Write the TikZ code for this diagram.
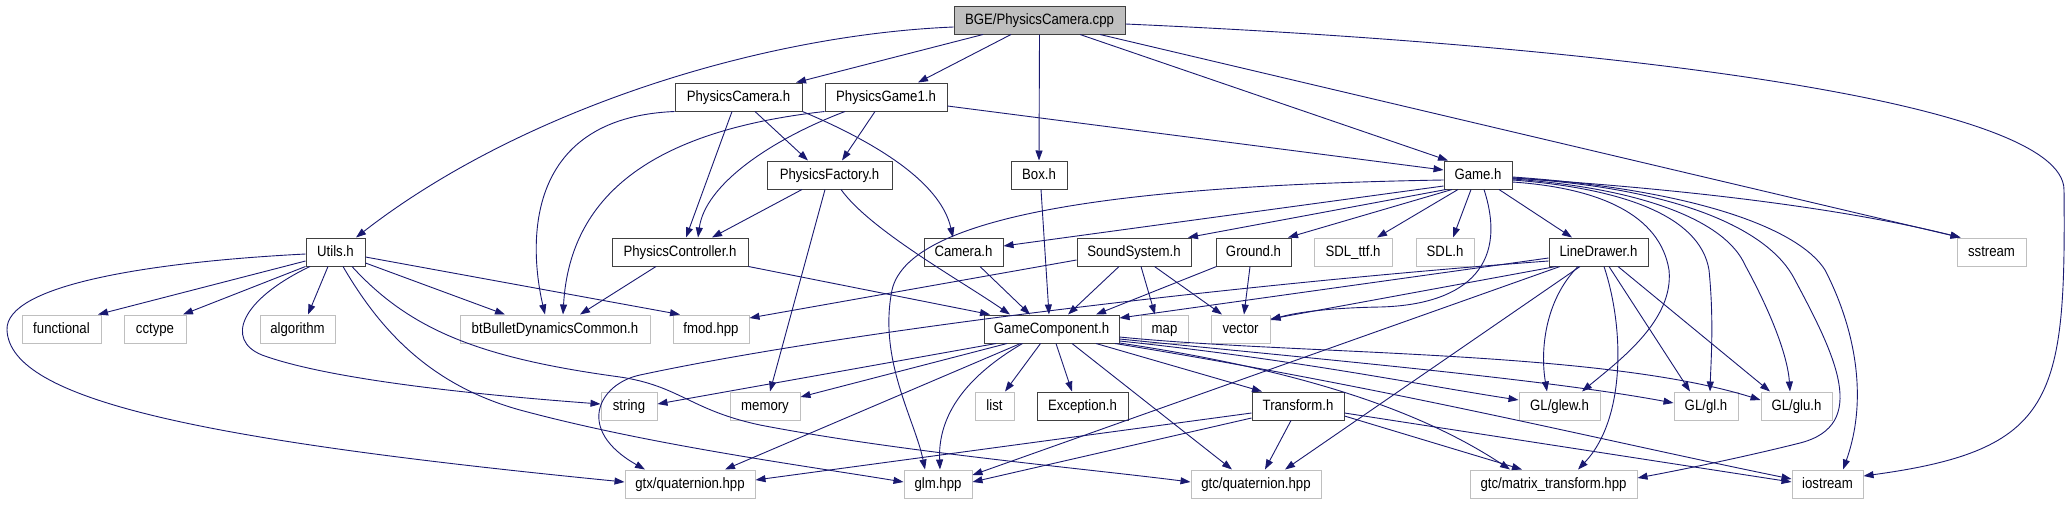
\documentclass[tikz,border=0pt]{standalone}
\usepackage{fontspec}
\setmainfont{Liberation Sans}[FakeStretch=0.88]
\usetikzlibrary{arrows.meta}
\definecolor{edgec}{HTML}{191970}
\definecolor{grayb}{HTML}{BFBFBF}
\definecolor{darkb}{HTML}{404040}
\tikzset{
 nb/.style={draw=darkb,line width=1pt,fill=white,inner sep=0pt,minimum height=28pt,
   font=\fontsize{15}{17}\selectfont,text height=10.5pt,text depth=2.5pt},
 sb/.style={nb,draw=grayb},
 rb/.style={nb,fill=grayb},
 dep/.style={draw=edgec,line width=0.9pt,-{Triangle[length=10pt,width=7pt]}}
}
\newcommand\gnode[6]{\node[#1,minimum width=#5pt-#4pt] (#2) at ({(#4+#5)/2},#6) {#3};}
\begin{document}
\begin{tikzpicture}[x=1pt,y=-1pt]
\useasboundingbox (0,0) rectangle (2069,504);
% row 0
\gnode{rb}{bge}{BGE/PhysicsCamera.cpp}{954}{1125}{20}
% row 1
\gnode{nb}{pch}{PhysicsCamera.h}{675}{802}{97}
\gnode{nb}{pg1}{PhysicsGame1.h}{825}{947}{97}
% row 2
\gnode{nb}{pf}{PhysicsFactory.h}{767}{892}{175}
\gnode{nb}{box}{Box.h}{1011}{1067}{175}
\gnode{nb}{game}{Game.h}{1444}{1512}{175}
% row 3
\gnode{nb}{utils}{Utils.h}{306}{365}{252}
\gnode{nb}{pc}{PhysicsController.h}{612}{748}{252}
\gnode{nb}{cam}{Camera.h}{924}{1003}{252}
\gnode{nb}{ss}{SoundSystem.h}{1077}{1191}{252}
\gnode{nb}{ground}{Ground.h}{1216}{1291}{252}
\gnode{sb}{sdlttf}{SDL\_ttf.h}{1314}{1392}{252}
\gnode{sb}{sdl}{SDL.h}{1416}{1474}{252}
\gnode{nb}{ld}{LineDrawer.h}{1549}{1648}{252}
\gnode{sb}{sstream}{sstream}{1957}{2026}{252}
% row 4
\gnode{sb}{func}{functional}{22}{101}{329}
\gnode{sb}{cctype}{cctype}{124}{186}{329}
\gnode{sb}{algo}{algorithm}{260}{335}{329}
\gnode{sb}{bt}{btBulletDynamicsCommon.h}{460}{650}{329}
\gnode{sb}{fmod}{fmod.hpp}{673}{749}{329}
\gnode{nb}{gc}{GameComponent.h}{984}{1119}{329}
\gnode{sb}{map}{map}{1141}{1188}{329}
\gnode{sb}{vector}{vector}{1211}{1270}{329}
% row 5
\gnode{sb}{string}{string}{601}{657}{406}
\gnode{sb}{memory}{memory}{730}{800}{406}
\gnode{sb}{list}{list}{975}{1014}{406}
\gnode{nb}{exc}{Exception.h}{1037}{1128}{406}
\gnode{nb}{trans}{Transform.h}{1252}{1344}{406}
\gnode{sb}{glew}{GL/glew.h}{1519}{1600}{406}
\gnode{sb}{gl}{GL/gl.h}{1674}{1738}{406}
\gnode{sb}{glu}{GL/glu.h}{1761}{1832}{406}
% row 6
\gnode{sb}{gtxq}{gtx/quaternion.hpp}{625}{755}{484}
\gnode{sb}{glm}{glm.hpp}{904}{972}{484}
\gnode{sb}{gtcq}{gtc/quaternion.hpp}{1191}{1321}{484}
\gnode{sb}{gtcm}{gtc/matrix\_transform.hpp}{1470}{1637}{484}
\gnode{sb}{ios}{iostream}{1792}{1863}{484}

% ---- edges from BGE/PhysicsCamera.cpp
\draw[dep] ([yshift=-7pt]bge.west) .. controls (760,35) and (520,110) .. ([xshift=20.5pt]utils.north);
\draw[dep] ([xshift=-56.5pt]bge.south) -- ([xshift=57.5pt]pch.north);
\draw[dep] ([xshift=-28.5pt]bge.south) -- ([xshift=32pt]pg1.north);
\draw[dep] (bge.south) -- (box.north);
\draw[dep] ([xshift=40.5pt]bge.south) -- ([xshift=-30pt]game.north);
\draw[dep] ([xshift=60.5pt]bge.south) -- ([xshift=-31pt]sstream.north);
\draw[dep] ([yshift=-4pt]bge.east) .. controls (1600,45) and (2064,100) .. (2064,190)
   .. controls (2066,400) and (2055,450) .. ([yshift=8pt]ios.east);

% ---- PhysicsCamera.h
\draw[dep] (pch.south west) .. controls (520,118) and (530,250) .. ([xshift=-10pt]bt.north);
\draw[dep] ([xshift=-6.5pt]pch.south) -- ([xshift=6pt]pc.north);
\draw[dep] ([xshift=16.5pt]pch.south) -- ([xshift=-21.5pt]pf.north);
\draw[dep] (pch.south east) .. controls (870,140) and (940,180) .. ([xshift=-10.5pt]cam.north);

% ---- PhysicsGame1.h
\draw[dep] (pg1.south west) .. controls (660,130) and (570,190) .. ([xshift=8pt]bt.north);
\draw[dep] ([xshift=-41pt]pg1.south) .. controls (770,140) and (705,185) .. ([xshift=18pt]pc.north);
\draw[dep] ([xshift=-11pt]pg1.south) -- ([xshift=12.5pt]pf.north);
\draw[dep] ([yshift=-9pt]pg1.east) -- ([yshift=5pt]game.west);

% ---- PhysicsFactory.h
\draw[dep] ([xshift=-27.5pt]pf.south) -- ([xshift=32pt]pc.north);
\draw[dep] ([xshift=-4.5pt]pf.south) -- ([xshift=5pt]memory.north);
\draw[dep] ([xshift=11.5pt]pf.south) .. controls (870,230) and (960,280) .. ([xshift=-41.5pt]gc.north);

% ---- Box.h
\draw[dep] ([xshift=2pt]box.south) -- ([xshift=-2.5pt]gc.north);

% ---- Game.h
\draw[dep] ([yshift=-5pt]game.west) .. controls (1150,185) and (910,210) .. (892,290)
   .. controls (878,360) and (915,420) .. ([xshift=-13pt]glm.north);
\draw[dep] ([yshift=-11pt]game.west) -- ([yshift=6pt]cam.east);
\draw[dep] ([xshift=-32pt]game.south) -- ([xshift=54pt]ss.north);
\draw[dep] ([xshift=-26pt]game.south) -- ([xshift=34.5pt]ground.north);
\draw[dep] ([xshift=-20pt]game.south) -- ([xshift=24pt]sdlttf.north);
\draw[dep] ([xshift=-7pt]game.south) -- ([xshift=8pt]sdl.north);
\draw[dep] ([xshift=21pt]game.south) -- ([xshift=-26.5pt]ld.north);
\draw[dep] ([xshift=6pt]game.south) .. controls (1510,270) and (1460,305) .. (1380,307)
   .. controls (1320,308) and (1290,314) .. ([yshift=9pt]vector.east);
\draw[dep] ([yshift=-3pt]game.east) .. controls (1700,190) and (1850,210) .. ([xshift=-31pt]sstream.north);
\draw[dep] ([yshift=-7pt]game.east) .. controls (1600,188) and (1660,215) .. (1669,270)
   .. controls (1674,320) and (1620,360) .. ([xshift=22.5pt]glew.north);
\draw[dep] ([yshift=-5pt]game.east) .. controls (1620,188) and (1700,215) .. (1709,270)
   .. controls (1714,320) and (1711,360) .. ([xshift=4pt]gl.north);
\draw[dep] ([yshift=-4pt]game.east) .. controls (1640,188) and (1725,220) .. (1745,265)
   .. controls (1775,320) and (1788,360) .. ([xshift=-6.5pt]glu.north);
\draw[dep] ([yshift=-3pt]game.east) .. controls (1680,188) and (1770,230) .. (1795,280)
   .. controls (1835,355) and (1870,425) .. (1800,443)
   .. controls (1740,458) and (1680,470) .. ([yshift=6pt]gtcm.east);
\draw[dep] ([yshift=-2pt]game.east) .. controls (1700,190) and (1800,230) .. (1825,270)
   .. controls (1856,330) and (1868,400) .. ([xshift=15.5pt]ios.north);

% ---- LineDrawer.h
\draw[dep] ([yshift=-6pt]ld.west) -- ([yshift=11pt]gc.east);
\draw[dep] ([yshift=-9pt]ld.west) .. controls (1250,283) and (850,330) .. (640,375)
   .. controls (598,384) and (575,430) .. ([xshift=-45pt]gtxq.north);
\draw[dep] ([xshift=-42.5pt]ld.south) -- ([yshift=10pt]vector.east);
\draw[dep] ([xshift=-38.5pt]ld.south) -- ([yshift=9pt]glm.east);
\draw[dep] ([xshift=-18.5pt]ld.south) -- ([xshift=29pt]gtcq.north);
\draw[dep] ([xshift=-20.5pt]ld.south) .. controls (1545,300) and (1540,350) .. ([xshift=-12.5pt]glew.north);
\draw[dep] ([xshift=5.5pt]ld.south) .. controls (1625,330) and (1625,420) .. ([xshift=24.5pt]gtcm.north);
\draw[dep] ([xshift=10.5pt]ld.south) -- ([xshift=-16pt]gl.north);
\draw[dep] ([xshift=19.5pt]ld.south) -- ([xshift=-26.5pt]glu.north);

% ---- Utils.h
\draw[dep] ([yshift=-2pt]utils.west) .. controls (150,262) and (5,285) .. (7,330)
   .. controls (10,400) and (200,440) .. ([yshift=2pt]gtxq.west);
\draw[dep] ([yshift=-9pt]utils.west) -- ([xshift=36.5pt]func.north);
\draw[dep] (utils.south west) -- ([xshift=28pt]cctype.north);
\draw[dep] ([xshift=-25.5pt]utils.south) .. controls (240,300) and (225,340) .. (262,355)
   .. controls (330,380) and (480,395) .. ([yshift=2pt]string.west);
\draw[dep] ([xshift=-7.5pt]utils.south) -- ([xshift=10.5pt]algo.north);
\draw[dep] ([xshift=7.5pt]utils.south) .. controls (380,330) and (430,385) .. (520,410)
   .. controls (650,445) and (800,465) .. ([yshift=2pt]glm.west);
\draw[dep] ([xshift=16.5pt]utils.south) .. controls (410,330) and (480,358) .. (620,377)
   .. controls (680,386) and (690,410) .. (760,425)
   .. controls (900,452) and (1080,468) .. ([yshift=2pt]gtcq.west);
\draw[dep] ([yshift=-11pt]utils.east) -- ([xshift=-50pt]bt.north);
\draw[dep] ([yshift=-5pt]utils.east) -- ([xshift=-31pt]fmod.north);

% ---- PhysicsController.h
\draw[dep] ([xshift=-24pt]pc.south) -- ([xshift=25pt]bt.north);
\draw[dep] (pc.south east) -- ([xshift=-61.5pt]gc.north);

% ---- Camera.h
\draw[dep] ([xshift=16.5pt]cam.south) -- ([xshift=-21.5pt]gc.north);

% ---- SoundSystem.h
\draw[dep] ([yshift=-8pt]ss.west) -- ([yshift=11pt]fmod.east);
\draw[dep] ([xshift=-15pt]ss.south) -- ([xshift=16.5pt]gc.north);
\draw[dep] ([xshift=7pt]ss.south) -- ([xshift=-9.5pt]map.north);
\draw[dep] ([xshift=20.5pt]ss.south) -- ([xshift=-18.5pt]vector.north);

% ---- Ground.h
\draw[dep] ([xshift=-37pt]ground.south) -- ([xshift=44.5pt]gc.north);
\draw[dep] ([xshift=-3.5pt]ground.south) -- ([xshift=3.5pt]vector.north);

% ---- GameComponent.h
\draw[dep] ([xshift=-55.5pt]gc.south) -- ([yshift=2pt]string.east);
\draw[dep] ([xshift=-44.5pt]gc.south) -- ([yshift=9pt]memory.east);
\draw[dep] ([xshift=-31pt]gc.south) -- ([xshift=35pt]gtxq.north);
\draw[dep] ([xshift=-29pt]gc.south) .. controls (960,380) and (938,420) .. ([xshift=2pt]glm.north);
\draw[dep] ([xshift=-11pt]gc.south) -- ([xshift=10.5pt]list.north);
\draw[dep] ([xshift=4.5pt]gc.south) -- ([xshift=-10.5pt]exc.north);
\draw[dep] ([xshift=20.5pt]gc.south) -- ([xshift=-24pt]gtcq.north);
\draw[dep] ([xshift=44.5pt]gc.south) -- ([xshift=-36pt]trans.north);
\draw[dep] ([yshift=-12pt]gc.east) .. controls (1300,360) and (1420,385) .. ([yshift=6pt]glew.west);
\draw[dep] ([yshift=-10pt]gc.east) .. controls (1350,362) and (1550,380) .. ([yshift=3pt]gl.west);
\draw[dep] ([yshift=-8pt]gc.east) .. controls (1300,355) and (1600,350) .. ([yshift=6pt]glu.west);
\draw[dep] ([yshift=-14pt]gc.east) .. controls (1300,370) and (1420,410) .. ([xshift=-43.5pt]gtcm.north);
\draw[dep] ([xshift=63.5pt]gc.south) .. controls (1400,390) and (1600,440) .. ([yshift=5pt]ios.west);

% ---- Transform.h
\draw[dep] ([yshift=-7pt]trans.west) -- ([yshift=4pt]gtxq.east);
\draw[dep] ([yshift=-12pt]trans.west) -- ([yshift=2pt]glm.east);
\draw[dep] ([xshift=-7pt]trans.south) -- ([xshift=9pt]gtcq.north);
\draw[dep] ([yshift=-10pt]trans.east) -- ([xshift=-31.5pt]gtcm.north);
\draw[dep] ([yshift=-7pt]trans.east) -- ([yshift=2pt]ios.west);
\end{tikzpicture}
\end{document}
